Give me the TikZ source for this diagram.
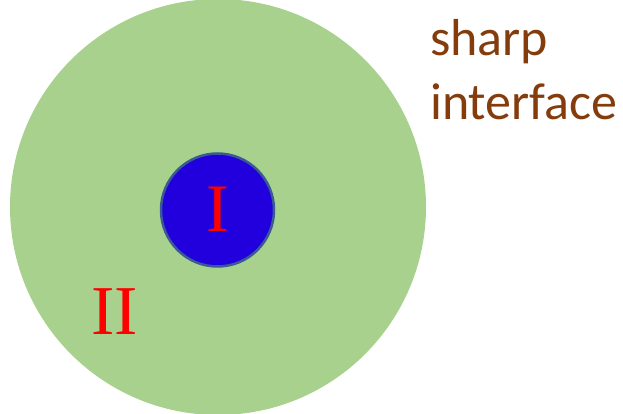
\documentclass[tikz,border=0pt]{standalone}
\usepackage{fontspec}
\newfontfamily\labelfont{Carlito}
\setmainfont{Liberation Serif}
\definecolor{regiontwo}{HTML}{A9D18E}
\definecolor{regionone}{HTML}{2200DD}
\definecolor{oneborder}{HTML}{3A5A96}
\definecolor{labelbrown}{HTML}{843C0C}
\begin{document}
\begin{tikzpicture}[x=1pt,y=1pt,line cap=round,line join=round]
  \useasboundingbox (0,0) rectangle (623,414);
  \fill[regiontwo] (218,207) circle (208);
  \filldraw[fill=regionone,draw=oneborder,line width=2.5pt] (217.5,204) circle (56.5);
  \node[text=red,font=\fontsize{68}{68}\selectfont,inner sep=0pt] (one) at (217.5,205) {I};
  \node[text=red,font=\fontsize{70}{70}\selectfont,inner sep=0pt] (two) at (114.5,102) {II};
  \node[text=labelbrown,font=\labelfont\fontsize{52}{64}\selectfont,align=left,anchor=base west,inner sep=0pt] (iface) at (430,294) {sharp\\interface};
\end{tikzpicture}
\end{document}
